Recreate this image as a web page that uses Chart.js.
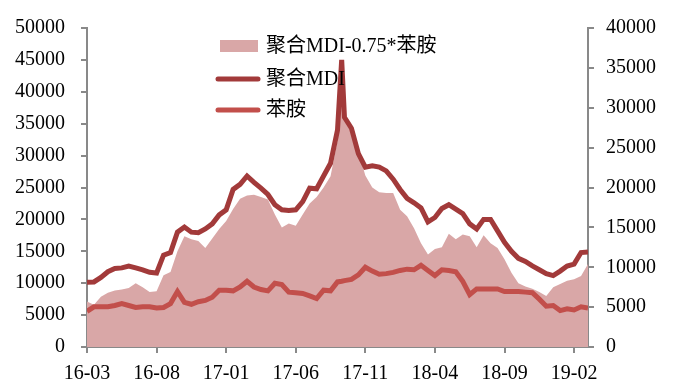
<!DOCTYPE html>
<html>
<head>
<meta charset="utf-8">
<script src="https://cdn.jsdelivr.net/npm/chart.js@4"></script>
<style>
  html, body { margin: 0; padding: 0; background: #fff; }
  #wrap { width: 676px; height: 385px; }
</style>
</head>
<body>
<div id="wrap"><canvas id="chart" width="676" height="385"></canvas></div>
<script>
// months counted from 2016-03
const months = [0, 0.5, 1, 1.5, 2, 2.5, 3, 3.5, 4, 4.5, 5, 5.5, 6, 6.5, 7, 7.5, 8, 8.5, 9, 9.5,
  10, 10.5, 11, 11.5, 12, 12.5, 13, 13.5, 14, 14.5, 15, 15.5, 16, 16.5, 17, 17.5, 18, 18.3, 18.5,
  19, 19.5, 20, 20.5, 21, 21.5, 22, 22.5, 23, 23.5, 24, 24.5, 25, 25.5, 26, 26.5, 27, 27.5, 28,
  28.5, 29, 29.5, 30, 30.5, 31, 31.5, 32, 32.5, 33, 33.5, 34, 34.5, 35, 35.5, 36];
const tickLabels = ['16-03', '16-08', '17-01', '17-06', '17-11', '18-04', '18-09', '19-02'];

const spread = [5700, 5300, 6300, 6800, 7100, 7200, 7400, 8000, 7500, 6900, 7000, 9000, 9400, 12000,
  13900, 13500, 13300, 12400, 13600, 14800, 15800, 17300, 18600, 19000, 19100, 18800, 18500, 16600,
  15000, 15500, 15200, 16600, 18000, 18800, 20000, 21400, 25800, 36000, 28500, 27500, 24500, 21500,
  20000, 19400, 19300, 19300, 17200, 16400, 14900, 13000, 11600, 12300, 12500, 14200, 13500, 14100,
  13900, 12500, 14000, 13000, 12400, 11000, 9300, 8000, 7600, 7300, 6900, 6400, 7500, 7900, 8300,
  8500, 8900, 10400];
const mdi = [10150, 10200, 10900, 11800, 12300, 12400, 12700, 12400, 12100, 11700, 11600, 14400, 14800,
  18000, 18800, 18000, 17900, 18500, 19300, 20700, 21500, 24700, 25500, 26800, 25800, 24900, 23900,
  22300, 21500, 21400, 21500, 22800, 24900, 24800, 26800, 28800, 34000, 45000, 36000, 34300, 30300,
  28200, 28400, 28200, 27600, 26300, 24700, 23300, 22600, 21800, 19600, 20300, 21700, 22300, 21600,
  20900, 19300, 18500, 20000, 20000, 18200, 16400, 15000, 13900, 13400, 12700, 12100, 11500, 11200,
  11900, 12700, 13000, 14800, 14900];
const aniline = [5600, 6300, 6300, 6300, 6500, 6800, 6500, 6200, 6300, 6300, 6100, 6200, 6800, 8700,
  7000, 6700, 7100, 7300, 7800, 8900, 8900, 8800, 9400, 10300, 9400, 9000, 8800, 10000, 9800, 8600,
  8500, 8400, 8000, 7600, 8900, 8800, 10200, 10300, 10400, 10600, 11300, 12500, 11900, 11400, 11500,
  11700, 12000, 12200, 12100, 12800, 12000, 11200, 12100, 12000, 11800, 10300, 8200, 9100, 9100,
  9100, 9100, 8700, 8700, 8700, 8600, 8500, 7500, 6400, 6500, 5700, 6000, 5800, 6300, 6100];

const FONT = "'Liberation Serif', 'Times New Roman', 'Noto Sans CJK SC', serif";
const AXIS = '#898989';

function pts(vals) {
  return months.map((m, i) => ({ x: m, y: vals[i] }));
}

// legend drawn inside the plot, stacked vertically
const legendPlugin = {
  id: 'boxLegend',
  afterDraw(chart) {
    const ctx = chart.ctx;
    const a = chart.chartArea;
    const x0 = a.left + 131;
    const rows = [a.top + 18, a.top + 51, a.top + 82];
    ctx.save();
    ctx.font = '20px ' + FONT;
    ctx.fillStyle = '#000';
    ctx.textBaseline = 'middle';
    chart.data.datasets.forEach((ds, i) => {
      const y = rows[i];
      if (ds.fill) {
        ctx.fillStyle = ds.backgroundColor;
        ctx.fillRect(x0 + 2, y - 6, 38, 12);
      } else {
        ctx.strokeStyle = ds.borderColor;
        ctx.lineWidth = 5;
        ctx.lineCap = 'round';
        ctx.beginPath();
        ctx.moveTo(x0, y);
        ctx.lineTo(x0 + 40, y);
        ctx.stroke();
      }
      ctx.fillStyle = '#000';
      ctx.fillText(ds.label, x0 + 48, y + 1);
    });
    ctx.restore();
  }
};

const config = {
  type: 'line',
  data: {
    datasets: [
      {
        label: '聚合MDI-0.75*苯胺',
        data: pts(spread),
        yAxisID: 'y1',
        fill: 'origin',
        backgroundColor: '#D9A7A7',
        borderWidth: 0,
        pointRadius: 0,
        order: 3,
      },
      {
        label: '聚合MDI',
        data: pts(mdi),
        yAxisID: 'y',
        fill: false,
        borderColor: '#A23A3A',
        borderWidth: 5,
        pointRadius: 0,
        order: 2,
      },
      {
        label: '苯胺',
        data: pts(aniline),
        yAxisID: 'y',
        fill: false,
        borderColor: '#C24F4B',
        borderWidth: 5,
        pointRadius: 0,
        order: 1,
      },
    ],
  },
  options: {
    responsive: false,
    animation: false,
    devicePixelRatio: 1,
    layout: { padding: { top: 16, left: 0, right: 0, bottom: 0 } },
    plugins: { legend: { display: false }, tooltip: { enabled: false } },
    scales: {
      x: {
        type: 'linear',
        min: 0,
        max: 36,
        grid: { drawOnChartArea: false, color: AXIS, tickLength: 6, lineWidth: 2 },
        border: { color: AXIS, width: 2 },
        ticks: {
          stepSize: 5,
          includeBounds: false,
          maxRotation: 0,
          padding: 9,
          color: '#000',
          font: { family: FONT, size: 20 },
          callback: (v) => tickLabels[v / 5],
        },
        afterFit: (s) => { s.height = 38; },
      },
      y: {
        position: 'left',
        min: 0,
        max: 50000,
        grid: { drawOnChartArea: false, color: AXIS, tickLength: 6, lineWidth: 2 },
        border: { color: AXIS, width: 2 },
        ticks: {
          stepSize: 5000,
          padding: 16,
          color: '#000',
          font: { family: FONT, size: 20 },
          callback: (v) => String(v),
        },
        afterFit: (s) => { s.width = 87; },
      },
      y1: {
        position: 'right',
        min: 0,
        max: 40000,
        grid: { drawOnChartArea: false, color: AXIS, tickLength: 6, lineWidth: 2 },
        border: { color: AXIS, width: 2 },
        ticks: {
          stepSize: 5000,
          padding: 12,
          color: '#000',
          font: { family: FONT, size: 20 },
          callback: (v) => String(v),
        },
        afterFit: (s) => { s.width = 88; },
      },
    },
  },
  plugins: [legendPlugin],
};

const myChart = new Chart(document.getElementById('chart'), config);
</script>
</body>
</html>
